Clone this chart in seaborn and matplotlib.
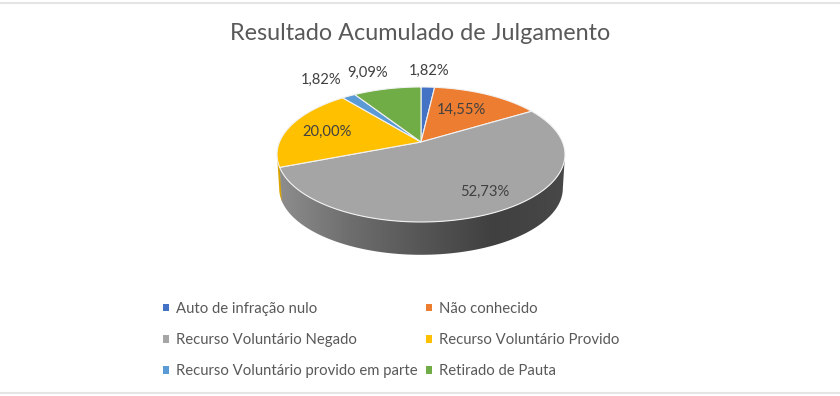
import numpy as np
import pandas as pd
import matplotlib
matplotlib.use('Agg')
import matplotlib.pyplot as plt
from matplotlib.colors import LinearSegmentedColormap
from matplotlib.patches import Polygon, Patch
import seaborn as sns

categories = ['Auto de infração nulo', 'Não conhecido', 'Recurso Voluntário Negado',
              'Recurso Voluntário Provido', 'Recurso Voluntário provido em parte', 'Retirado de Pauta']
percentages = [1.82, 14.55, 52.73, 20.00, 1.82, 9.09]
slice_colors = ['#4472C4', '#ED7D31', '#A5A5A5', '#FFC000', '#5B9BD5', '#70AD47']
title = 'Resultado Acumulado de Julgamento'

df = pd.DataFrame({'categoria': categories, 'pct': percentages})

sns.set_theme(style='white')
plt.rcParams['font.family'] = ['Lato', 'DejaVu Sans']
palette = sns.color_palette(slice_colors)

fig = plt.figure(figsize=(8.4, 3.96), dpi=100, facecolor='white')
ax = fig.add_axes([0, 0, 1, 1])

wedges, _ = ax.pie(df['pct'], colors=palette, startangle=90, counterclock=False)

# perspective of the tilted disc, in pixels
cx, cy = 421, 142
sx, sy, b = 141.5, 65.2, 0.185


def rim(theta, dy=0, k=1.0):
    x, y = np.cos(theta), np.sin(theta)
    d = 1 + b * y
    return np.column_stack([cx + k * sx * x / d, cy - k * sy * y / d + dy])


def wall(t1, t2):
    th = np.radians(np.linspace(t1, t2, 200))
    return np.vstack([rim(th), rim(th[::-1], dy=34, k=0.985)])


left_tan, right_tan = 190.7, 349.3

# side of the disc: the gold sliver, then the grey slice with its gradient
gray = wedges[2]
gray_end = gray.theta1 % 360
ax.add_patch(Polygon(wall(left_tan, gray_end + 1), fc='#D9A400', ec='none', zorder=1))

wall_patch = Polygon(wall(gray_end, right_tan), fc='none', ec='none', zorder=1)
ax.add_patch(wall_patch)
cmap = LinearSegmentedColormap.from_list('side', ['#8E8E8E', '#6E6E6E', '#565656', '#404040', '#484848'])
img = ax.imshow(np.linspace(0, 1, 300)[None, :], cmap=cmap, extent=[277, 565, 260, 150],
                aspect='auto', zorder=1.5)
img.set_clip_path(wall_patch)

# top face, warped from the pie's own wedges
for w in wedges:
    th = np.radians(np.linspace(w.theta1, w.theta2, 150))
    pts = np.vstack([[cx, cy], rim(th)])
    ax.add_patch(Polygon(pts, fc=w.get_facecolor(), ec='#F2F2F2', lw=0.8, zorder=2))
    w.set_visible(False)

label_x = [429, 461, 485, 327, 321, 368]
label_y = [71, 110, 192, 132, 80, 73]
for v, x, y in zip(df['pct'], label_x, label_y):
    ax.text(x, y, f'{v:.2f}%'.replace('.', ','), ha='center', va='center',
            fontsize=10.6, color='#404040', zorder=3)

ax.text(420.5, 33, title, ha='center', va='center', fontsize=16.8, color='#595959')

# frame lines of the screenshot
ax.plot([0, 840], [2.5, 2.5], color='#E4E4E4', lw=1.5)
ax.plot([0, 840], [393, 393], color='#E4E4E4', lw=1.5)

ax.set_aspect('auto')
ax.set_xlim(0, 840)
ax.set_ylim(396, 0)
ax.axis('off')

order = [0, 2, 4, 1, 3, 5]
handles = [Patch(fc=palette[i], ec='none', label=categories[i]) for i in order]
ax.legend(handles=handles, ncol=2, frameon=False, loc='upper left',
          bbox_to_anchor=(163 / 840, 1 - 302 / 396), fontsize=10.7, labelcolor='#595959',
          handlelength=0.41, handleheight=0.41, handletextpad=0.47, columnspacing=0.55,
          labelspacing=1.15, borderpad=0, borderaxespad=0)

plt.savefig('out.png', dpi=100)
